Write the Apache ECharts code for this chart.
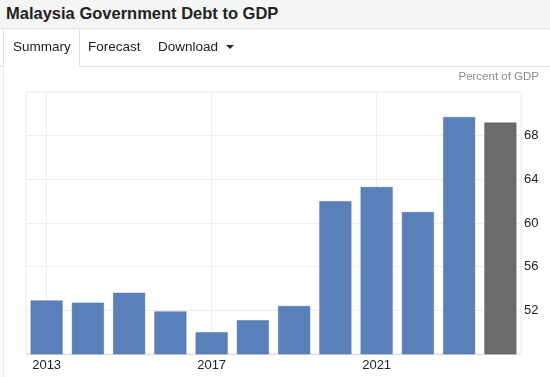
<!DOCTYPE html>
<html>
<head>
<meta charset="utf-8">
<script src="https://cdn.jsdelivr.net/npm/echarts@6/dist/echarts.min.js"></script>
<style>
  html, body { margin: 0; padding: 0; background: #fff; font-family: "Liberation Sans", Arial, sans-serif; }
  #wrap { position: relative; width: 550px; height: 377px; overflow: hidden; }
  #chart { position: absolute; left: 0; top: 0; width: 550px; height: 377px; }
  .titlebar { position: absolute; left: 0; top: 0; width: 550px; height: 28px; background: #f5f5f5; border-bottom: 1px solid #e2e2e2; z-index: 2; }
  .titlebar span { position: absolute; left: 6px; top: 4px; font-size: 16.5px; font-weight: bold; color: #222; }
  .tabs { position: absolute; left: 0; top: 29px; width: 550px; height: 37px; border-bottom: 1px solid #e0e0e0; z-index: 2; }
  .tab { position: absolute; top: 10px; font-size: 13.5px; color: #222; }
  .tab.active { left: 3px; top: 0; width: 75px; height: 37px; border: 1px solid #e0e0e0; border-bottom: 1px solid #fff; border-top: none; background: #fff; }
  .tab.active span { position: absolute; left: 9px; top: 10px; }
  .caret { display: inline-block; width: 0; height: 0; margin-left: 8px; vertical-align: middle; border-left: 4px solid transparent; border-right: 4px solid transparent; border-top: 4px solid #222; }
  .panel { position: absolute; left: 3px; top: 66px; width: 1px; height: 311px; background: #ececec; z-index: 2; }
</style>
</head>
<body>
<div id="wrap">
  <div id="chart"></div>
  <div class="titlebar"><span>Malaysia Government Debt to GDP</span></div>
  <div class="tabs">
    <div class="tab active"><span>Summary</span></div>
    <div class="tab" style="left:88px">Forecast</div>
    <div class="tab" style="left:158px">Download<span class="caret"></span></div>
  </div>
  <div class="panel"></div>
</div>
<script>
const years = ['2013', '2014', '2015', '2016', '2017', '2018', '2019', '2020', '2021', '2022', '2023', '2024'];
const debt = [52.9, 52.7, 53.6, 51.9, 50.0, 51.1, 52.4, 62.0, 63.3, 61.0, 69.7, null];
const forecast = [null, null, null, null, null, null, null, null, null, null, null, 69.2];
const yTicks = { min: 48, max: 72, step: 4 };

const chartDom = echarts.init(document.getElementById('chart'));
chartDom.setOption({
  animation: false,
  textStyle: { fontFamily: '"Liberation Sans", Arial, sans-serif' },
  title: {
    text: 'Percent of GDP',
    right: 6,
    top: 66,
    textStyle: { fontSize: 11.5, fontWeight: 'normal', color: '#8a8a8a' }
  },
  grid: {
    left: 26,
    right: 29,
    top: 92,
    bottom: 23,
    show: true,
    borderColor: '#ececec',
    borderWidth: 1
  },
  xAxis: {
    type: 'category',
    data: years,
    boundaryGap: true,
    axisLine: { lineStyle: { color: '#d8dce6' } },
    axisTick: { show: false },
    axisLabel: { interval: 3, color: '#222', fontSize: 13, margin: 5 },
    splitLine: { show: true, interval: 3, alignWithLabel: true, lineStyle: { color: '#eeeeee' } }
  },
  yAxis: {
    type: 'value',
    position: 'right',
    min: yTicks.min,
    max: yTicks.max,
    interval: yTicks.step,
    axisLine: { show: false },
    axisTick: { show: false },
    axisLabel: { showMinLabel: false, showMaxLabel: false, color: '#222', fontSize: 13, margin: 3 },
    splitLine: { lineStyle: { color: '#eeeeee' } }
  },
  series: [
    {
      name: 'Actual',
      type: 'bar',
      stack: 'v',
      barWidth: 32,
      data: debt,
      itemStyle: { color: '#5a80b9', borderColor: '#4e73ad', borderWidth: 0.5 }
    },
    {
      name: 'Forecast',
      type: 'bar',
      stack: 'v',
      barWidth: 32,
      data: forecast,
      itemStyle: { color: '#6b6b6b', borderColor: '#5e5e5e', borderWidth: 0.5 }
    }
  ]
});
</script>
</body>
</html>
